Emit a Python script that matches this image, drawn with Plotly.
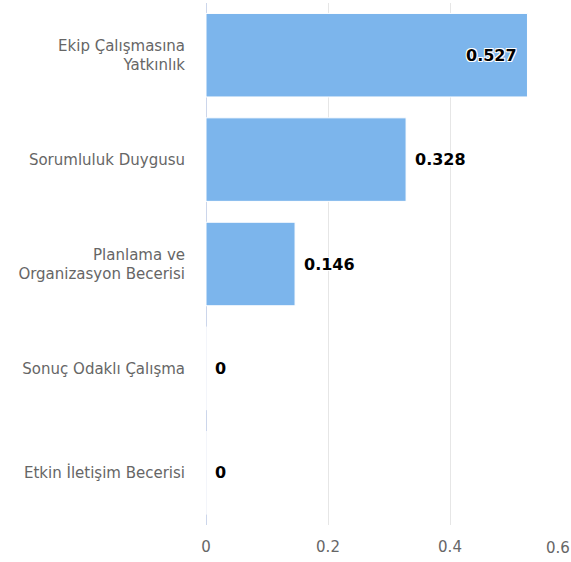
import plotly.graph_objects as go

categories = ["Ekip Çalışmasına<br>Yatkınlık", "Sorumluluk Duygusu",
              "Planlama ve<br>Organizasyon Becerisi", "Sonuç Odaklı Çalışma",
              "Etkin İletişim Becerisi"]
values = [0.527, 0.328, 0.146, 0, 0]
labels = ["0.527", "0.328", "0.146", "0", "0"]
inside = [True, False, False, False, False]
tick_vals = [0, 0.2, 0.4]
tick_text = ["0", "0.2", "0.4"]
last_tick = "0.6"

FONT = "DejaVu Sans"

fig = go.Figure()
fig.add_trace(go.Bar(
    x=values, y=categories, orientation="h",
    marker=dict(color="#7cb5ec", line=dict(color="#ffffff", width=1)),
    hoverinfo="skip",
))

shadow = "1px 1px 0 #fff, -1px -1px 0 #fff, 1px -1px 0 #fff, -1px 1px 0 #fff"
for v, c, t, ins in zip(values, categories, labels, inside):
    fig.add_annotation(
        x=v, y=c, xref="x", yref="y", text=t, showarrow=False,
        xanchor="right" if ins else "left",
        xshift=-8 if ins else 7,
        font=dict(family=FONT, size=16, color="#000000", weight="bold", shadow=shadow),
    )

fig.add_annotation(
    x=1, y=0, xref="paper", yref="paper", text=last_tick, showarrow=False,
    xanchor="right", yanchor="top", yshift=-12, xshift=1,
    font=dict(family=FONT, size=15, color="#666666"),
)

fig.update_layout(
    width=571, height=562,
    margin=dict(l=206, r=0, t=3, b=37),
    paper_bgcolor="#ffffff", plot_bgcolor="#ffffff",
    bargap=0.2, showlegend=False,
    font=dict(family=FONT, size=15, color="#666666"),
    xaxis=dict(
        range=[0, 365 / 610], tickvals=tick_vals, ticktext=tick_text,
        showgrid=True, gridcolor="#e6e6e6", gridwidth=1,
        zeroline=True, zerolinecolor="#ccd6eb", zerolinewidth=1,
        showline=False, ticks="", ticklabelstandoff=11,
        tickfont=dict(family=FONT, size=15, color="#666666"),
    ),
    yaxis=dict(
        autorange="reversed", showgrid=False, zeroline=False, showline=False,
        ticks="", ticklabelstandoff=20,
        tickfont=dict(family=FONT, size=15, color="#666666"),
    ),
)

fig.write_html("out.html")
